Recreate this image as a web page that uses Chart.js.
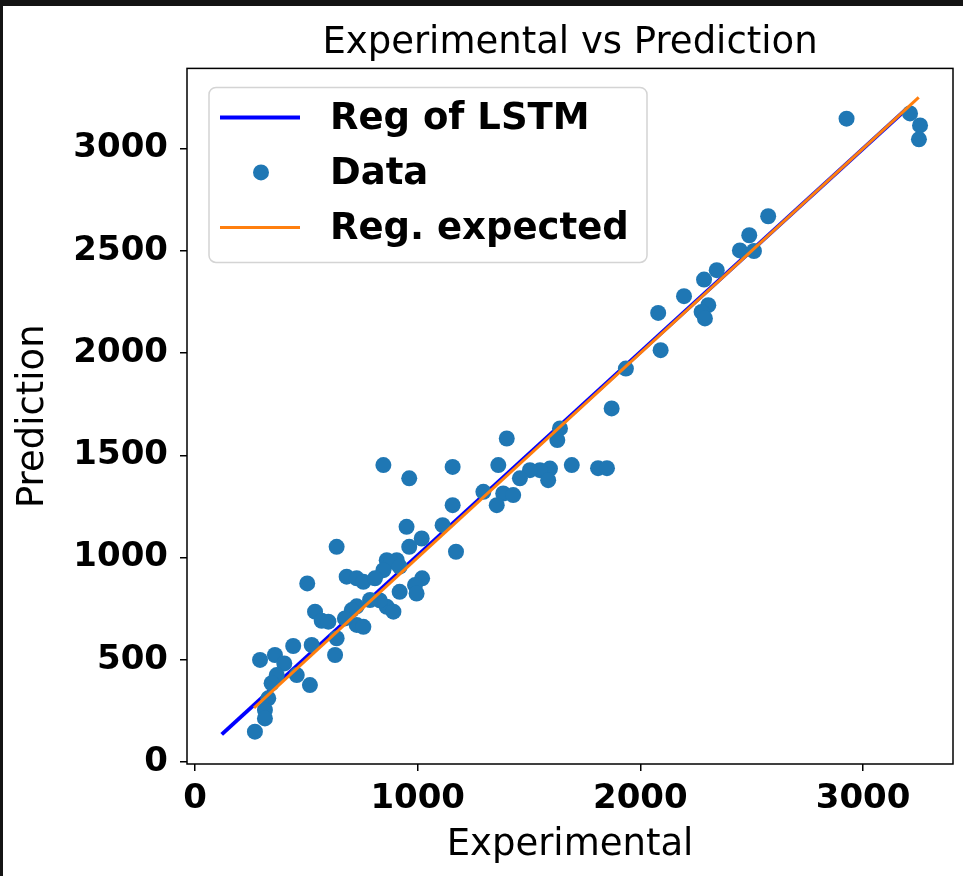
<!DOCTYPE html>
<html lang="en">
<head>
<meta charset="UTF-8">
<title>Experimental vs Prediction</title>
<script src="https://cdn.jsdelivr.net/npm/chart.js"></script>
<style>
    body { margin: 0; background: #141414; }
    #wrap { position: absolute; left: 3px; top: 6px; width: 960px; height: 870px; background: #fff; }
</style>
</head>
<body>
<div id="wrap">
    <canvas id="chartReg" width="960" height="870"></canvas>
</div>

<script>
// Data points (experimental vs predicted)
const expX = [2926, 3211, 3256, 3251, 2574, 2489, 2447, 2510, 2343, 2286, 2196, 2305, 2275, 2290, 2080, 2091,
    1935, 1871, 1810, 1850, 1639, 1627, 1400, 1362, 1692, 1594, 1549, 1504, 1459, 1586, 1295, 1384, 1429, 1355,
    846, 962, 1157, 1157, 1112, 950, 1018, 962, 1172, 861, 906, 880, 846, 919, 1020, 988, 919, 995, 861, 891, 830,
    636, 504, 681, 726, 756, 808, 786, 726, 704, 539, 569, 599, 726, 756, 673, 636, 524, 441, 629,
    359, 292, 401, 367, 457, 516, 344, 329, 314, 314, 269];
const predY = [3146, 3172, 3113, 3045, 2669, 2576, 2502, 2499, 2405, 2359, 2278, 2234, 2201, 2169, 2196, 2014,
    1924, 1729, 1437, 1437, 1631, 1574, 1582, 1452, 1452, 1435, 1427, 1427, 1387, 1378, 1321, 1313, 1305, 1256,
    1452, 1387, 1443, 1256, 1158, 1150, 1093, 1052, 1028, 987, 987, 979, 938, 955, 898, 865, 832, 824, 759, 735, 790,
    1052, 873, 906, 898, 881, 898, 792, 761, 743, 735, 690, 686, 670, 661, 702, 605, 572, 567, 523,
    523, 499, 482, 425, 425, 376, 385, 311, 254, 213, 148];

// Regression lines
const lstmX = [120, 3200];
const lstmY = [135, 3198];
const expectedX = [265, 3250];
const expectedY = [265, 3250];

// Axis ticks
const xTicks = [0, 1000, 2000, 3000];
const yTicks = [0, 500, 1000, 1500, 2000, 2500, 3000];

const toPoints = (xs, ys) => xs.map((x, i) => ({ x: x, y: ys[i] }));

const fonte = 'DejaVu Sans';

// frame + legend in the plot, like matplotlib
const moldura = {
    id: 'moldura',
    afterDatasetsDraw(chart) {
        const { ctx, chartArea } = chart;
        ctx.save();
        ctx.strokeStyle = '#000';
        ctx.lineWidth = 1.5;
        ctx.strokeRect(chartArea.left, chartArea.top, chartArea.right - chartArea.left, chartArea.bottom - chartArea.top);

        const bx = chartArea.left + 22, by = chartArea.top + 19, bw = 438, bh = 175;
        ctx.beginPath();
        ctx.roundRect(bx, by, bw, bh, 7);
        ctx.fillStyle = 'rgba(255,255,255,0.8)';
        ctx.fill();
        ctx.strokeStyle = '#d4d4d4';
        ctx.lineWidth = 1.5;
        ctx.stroke();

        ctx.font = 'bold 37px ' + fonte;
        ctx.textBaseline = 'middle';
        ctx.fillStyle = '#000';
        chart.data.datasets.forEach((ds, i) => {
            const ry = by + 30 + i * 55;
            if (ds.showLine) {
                ctx.beginPath();
                ctx.moveTo(bx + 11, ry);
                ctx.lineTo(bx + 91, ry);
                ctx.strokeStyle = ds.borderColor;
                ctx.lineWidth = ds.borderWidth;
                ctx.stroke();
            } else {
                ctx.beginPath();
                ctx.arc(bx + 52, ry, ds.pointRadius, 0, Math.PI * 2);
                ctx.fillStyle = ds.backgroundColor;
                ctx.fill();
            }
            ctx.fillStyle = '#000';
            ctx.fillText(ds.label, bx + 121, ry + 2);
        });
        ctx.restore();
    }
};

const config = {
    type: 'scatter',
    data: {
        datasets: [
            {
                label: 'Reg of LSTM',
                data: toPoints(lstmX, lstmY),
                showLine: true,
                borderColor: '#0000ff',
                borderWidth: 4,
                pointRadius: 0,
                order: 3
            },
            {
                label: 'Data',
                data: toPoints(expX, predY),
                showLine: false,
                backgroundColor: '#1f77b4',
                borderWidth: 0,
                pointRadius: 8,
                order: 2
            },
            {
                label: 'Reg. expected',
                data: toPoints(expectedX, expectedY),
                showLine: true,
                borderColor: '#ff7f0e',
                borderWidth: 3,
                pointRadius: 0,
                order: 1
            }
        ]
    },
    options: {
        responsive: false,
        animation: false,
        devicePixelRatio: 1,
        layout: { padding: { left: 0, right: 10, top: 0, bottom: 0 } },
        plugins: {
            legend: { display: false },
            tooltip: { enabled: false },
            title: {
                display: true,
                text: 'Experimental vs Prediction',
                color: '#000',
                fullSize: false,
                font: { family: fonte, size: 37, weight: 'normal' },
                padding: { top: 15, bottom: 3 }
            }
        },
        scales: {
            x: {
                type: 'linear',
                min: -36,
                max: 3404,
                afterBuildTicks: (scale) => { scale.ticks = xTicks.map(v => ({ value: v })); },
                afterFit: (scale) => { scale.height = 112; },
                ticks: {
                    color: '#000',
                    padding: 8,
                    callback: (v) => String(v),
                    font: { family: fonte, size: 34, weight: 'bold' }
                },
                grid: { drawOnChartArea: false, drawTicks: true, tickLength: 7, color: '#000', lineWidth: 1.5 },
                border: { display: false },
                title: {
                    display: true,
                    text: 'Experimental',
                    color: '#000',
                    font: { family: fonte, size: 37 },
                    padding: { top: 0, bottom: 8 }
                }
            },
            y: {
                type: 'linear',
                min: -10,
                max: 3392,
                afterBuildTicks: (scale) => { scale.ticks = yTicks.map(v => ({ value: v })); },
                afterFit: (scale) => { scale.width = 184; },
                ticks: {
                    color: '#000',
                    padding: 12,
                    callback: (v) => String(v),
                    font: { family: fonte, size: 34, weight: 'bold' }
                },
                grid: { drawOnChartArea: false, drawTicks: true, tickLength: 7, color: '#000', lineWidth: 1.5 },
                border: { display: false },
                title: {
                    display: true,
                    text: 'Prediction',
                    color: '#000',
                    font: { family: fonte, size: 37 },
                    padding: { top: 8, bottom: 0 }
                }
            }
        }
    },
    plugins: [moldura]
};

const graficoReg = new Chart(document.getElementById('chartReg'), config);
</script>
</body>
</html>
